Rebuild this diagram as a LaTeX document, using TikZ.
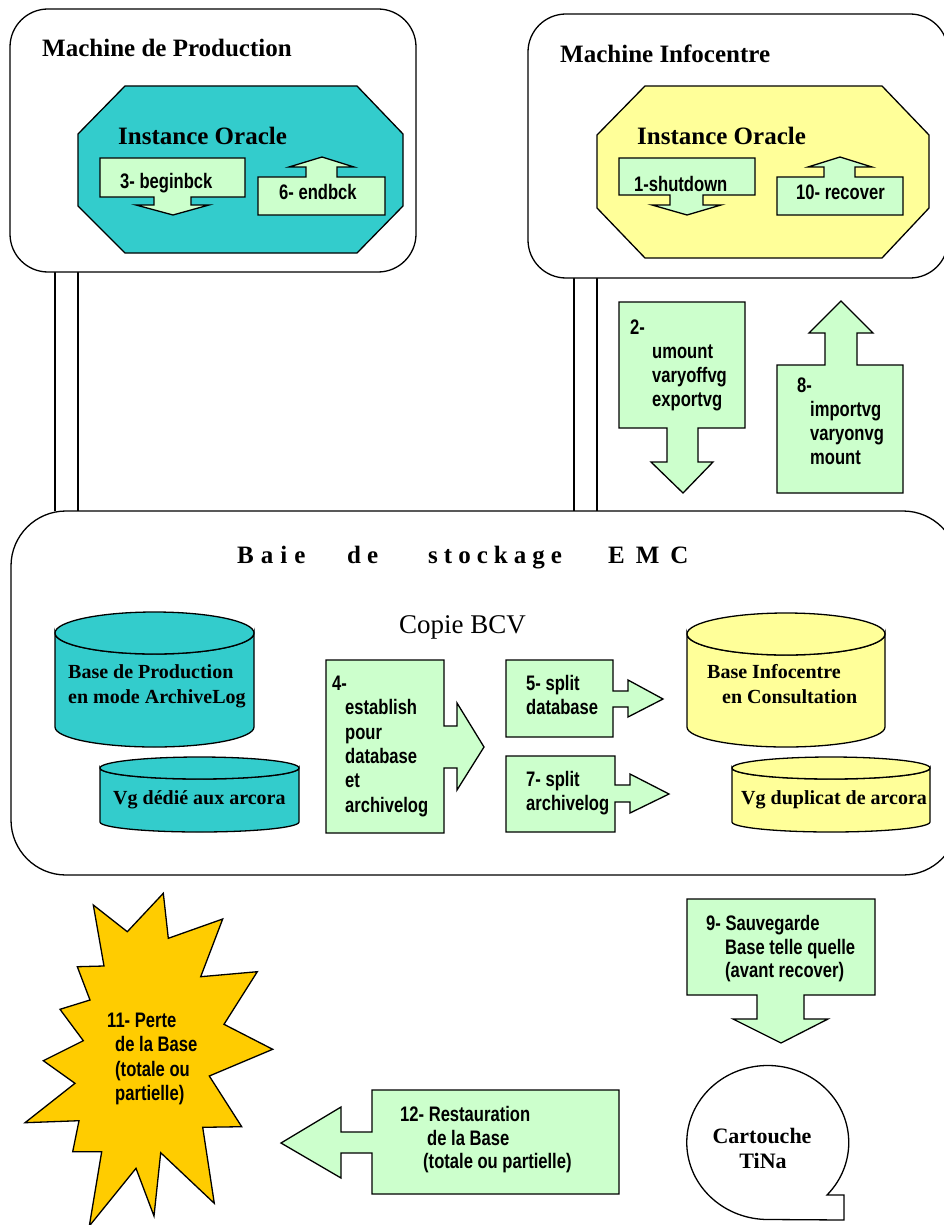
\documentclass[tikz,border=0pt]{standalone}
\usepackage{fontspec}
\setmainfont{Liberation Serif}
\newfontfamily\sfb{Liberation Sans}[FakeStretch=0.79]
\definecolor{teal1}{HTML}{33CCCC}
\definecolor{yel1}{HTML}{FFFF99}
\definecolor{grn1}{HTML}{CCFFCC}
\definecolor{star1}{HTML}{FFCC00}
\tikzset{
 ln/.style={draw=black, line width=1.3pt, line join=miter},
 callout/.style={ln, fill=grn1},
 sft/.style={font=\sfb\bfseries\fontsize{21}{24}\selectfont, inner sep=0pt, anchor=base west},
 srb/.style={font=\bfseries\fontsize{25}{30}\selectfont, inner sep=0pt, anchor=base west},
 srm/.style={font=\bfseries\fontsize{20}{24}\selectfont, inner sep=0pt, anchor=base west},
 machine/.style={ln, fill=white, rounded corners=38pt},
}
\begin{document}
\begin{tikzpicture}[x=1pt,y=-1pt]
\useasboundingbox (0,0) rectangle (944,1225);
% pipes
\draw[ln] (55,272) -- (55,511) (78,272) -- (78,511);
\draw[ln] (574,278) -- (574,511) (597,278) -- (597,511);
% machine boxes
\draw[machine] (10,9) rectangle (416,272);
\draw[machine] (528,14) rectangle (948,278);
\node[srb] (mprod) at (42,57) {Machine de Production};
\node[srb] (minfo) at (560,63) {Machine Infocentre};
% octagons
\draw[ln, fill=teal1] (125,86) -- (357,86) -- (403,134) -- (403,206) -- (357,253) -- (125,253) -- (78,206) -- (78,134) -- cycle;
\draw[ln, fill=yel1] (645,86) -- (882,86) -- (929,135) -- (929,208) -- (882,258) -- (645,258) -- (597,208) -- (597,135) -- cycle;
\node[srb] (io1) at (118,145) {Instance Oracle};
\node[srb] (io2) at (637,145) {Instance Oracle};
% 3- beginbck
\draw[callout] (100,158) -- (245,158) -- (245,197) -- (191,197) -- (191,205) -- (209,205) -- (173,215) -- (136,205) -- (154,205) -- (154,197) -- (100,197) -- cycle;
\node[sft] (t3) at (120,189) {3- beginbck};
% 6- endbck
\draw[callout] (258,177) -- (306,177) -- (306,167) -- (289,167) -- (322,157) -- (354,167) -- (337,167) -- (337,177) -- (385,177) -- (385,215) -- (258,215) -- cycle;
\node[sft] (t6) at (279,200) {6- endbck};
% 1-shutdown
\draw[callout] (619,158) -- (755,158) -- (755,195) -- (703,195) -- (703,205) -- (721,205) -- (687,215) -- (652,205) -- (670,205) -- (670,195) -- (619,195) -- cycle;
\node[sft] (t1) at (634,192) {1-shutdown};
% 10- recover
\draw[callout] (777,177) -- (824,177) -- (824,167) -- (808,167) -- (840,157) -- (872,167) -- (855,167) -- (855,177) -- (903,177) -- (903,215) -- (777,215) -- cycle;
\node[sft] (t10) at (796,200) {10- recover};
% 2-
\draw[callout] (619,302) -- (745,302) -- (745,428) -- (698,428) -- (698,462) -- (713,462) -- (683,493) -- (651,462) -- (667,462) -- (667,428) -- (619,428) -- cycle;
\node[sft] (t2a) at (630,334) {2-};
\node[sft] (t2b) at (652,358) {umount};
\node[sft] (t2c) at (652,382) {varyoffvg};
\node[sft] (t2d) at (652,406) {exportvg};
% 8-
\draw[callout] (777,365) -- (825,365) -- (825,333) -- (809,333) -- (841,301) -- (873,333) -- (857,333) -- (857,365) -- (903,365) -- (903,493) -- (777,493) -- cycle;
\node[sft] (t8a) at (797,392) {8-};
\node[sft] (t8b) at (810,416) {importvg};
\node[sft] (t8c) at (810,440) {varyonvg};
\node[sft] (t8d) at (810,464) {mount};
% Baie
\draw[ln, fill=white, rounded corners=55pt] (11,511) rectangle (958,875);
\node[srb] (b1) at (237,563) {B\kern7pt a\kern7pt i\kern7pt e};
\node[srb] (b2) at (347,563) {d\kern6pt e};
\node[srb] (b3) at (428,563) {s\kern6pt t\kern6pt o\kern6pt c\kern6pt k\kern6pt a\kern6pt g\kern6pt e};
\node[srb] (b4) at (608,563) {E\kern11pt M\kern11pt C};
\node[inner sep=0pt, anchor=base west, font=\fontsize{27}{32}\selectfont] (bcv) at (399,633) {Copie BCV};
% cylinders
\filldraw[ln, fill=teal1] (55,633) -- (55,727) arc[start angle=180,end angle=0,x radius=99.5,y radius=20] -- (254,633) arc[start angle=0,end angle=180,x radius=99.5,y radius=21] -- cycle;
\draw[ln, fill=teal1] (154.5,633) ellipse [x radius=99.5, y radius=21];
\filldraw[ln, fill=teal1] (100,768) -- (100,822) arc[start angle=180,end angle=0,x radius=99.5,y radius=10] -- (299,768) arc[start angle=0,end angle=180,x radius=99.5,y radius=11] -- cycle;
\draw[ln, fill=teal1] (199.5,768) ellipse [x radius=99.5, y radius=11];
\filldraw[ln, fill=yel1] (687,634) -- (687,727) arc[start angle=180,end angle=0,x radius=99,y radius=20] -- (885,634) arc[start angle=0,end angle=180,x radius=99,y radius=21] -- cycle;
\draw[ln, fill=yel1] (786,634) ellipse [x radius=99, y radius=21];
\filldraw[ln, fill=yel1] (732,768) -- (732,822) arc[start angle=180,end angle=0,x radius=99,y radius=10] -- (930,768) arc[start angle=0,end angle=180,x radius=99,y radius=11] -- cycle;
\draw[ln, fill=yel1] (831,768) ellipse [x radius=99, y radius=11];
\node[srm] (bp1) at (68,678) {Base de Production};
\node[srm] (bp2) at (68,703) {en mode ArchiveLog};
\node[srm] (vg1) at (113,804) {Vg dédié aux arcora};
\node[srm] (bi1) at (707,678) {Base Infocentre};
\node[srm] (bi2) at (722,703) {en Consultation};
\node[srm] (vg2) at (741,804) {Vg duplicat de arcora};
% 4-
\draw[callout] (326,660) -- (444,660) -- (444,726) -- (457,726) -- (457,703) -- (484,747) -- (457,790) -- (457,768) -- (444,768) -- (444,833) -- (326,833) -- cycle;
\node[sft] (t4a) at (332,690) {4-};
\node[sft] (t4b) at (345,714) {establish};
\node[sft] (t4c) at (345,739) {pour};
\node[sft] (t4d) at (345,763) {database};
\node[sft] (t4e) at (345,787) {et};
\node[sft] (t4f) at (345,812) {archivelog};
% 5-
\draw[callout] (506,660) -- (613,660) -- (613,691) -- (628,691) -- (628,680) -- (663,699) -- (628,717) -- (628,707) -- (613,707) -- (613,737) -- (506,737) -- cycle;
\node[sft] (t5a) at (526,690) {5- split};
\node[sft] (t5b) at (526,714) {database};
% 7-
\draw[callout] (506,756) -- (615,756) -- (615,785) -- (630,785) -- (630,774) -- (669,794) -- (630,813) -- (630,802) -- (615,802) -- (615,832) -- (506,832) -- cycle;
\node[sft] (t7a) at (526,786) {7- split};
\node[sft] (t7b) at (526,810) {archivelog};
% star
\draw[ln, fill=star1] (163.3,893.3) -- (168.3,938.3) -- (222.7,919) -- (200.7,976.7) -- (257.3,971.7) -- (224,1024.3) -- (272.7,1049.3) -- (209.3,1076) -- (241.7,1126.7) -- (202.7,1127.3) -- (214.3,1203.3) -- (160.7,1152.7) -- (154,1216) -- (136,1168.3) -- (89.3,1226) -- (101.7,1151.7) -- (72.7,1151.7) -- (79,1120.7) -- (25,1122.7) -- (75,1083.3) -- (43.3,1060.7) -- (83.3,1040.7) -- (60,1009.3) -- (90,1000) -- (77.3,966.7) -- (104,966) -- (93.3,905) -- (127.3,931.7) -- cycle;
\node[sft] (t11a) at (107,1027) {11- Perte};
\node[sft] (t11b) at (115,1051) {de la Base};
\node[sft] (t11c) at (115,1076) {(totale ou};
\node[sft] (t11d) at (115,1100) {partielle)};
% 12-
\draw[callout] (372,1090) -- (619,1090) -- (619,1194) -- (372,1194) -- (372,1153) -- (341,1153) -- (341,1178) -- (281,1143) -- (341,1107) -- (341,1132) -- (372,1132) -- cycle;
\node[sft] (t12a) at (400,1121) {12- Restauration};
\node[sft] (t12b) at (427,1145) {de la Base};
\node[sft] (t12c) at (423,1168) {(totale ou partielle)};
% 9-
\draw[callout] (687,899) -- (875,899) -- (875,995) -- (804,995) -- (804,1019) -- (828,1019) -- (781,1043) -- (733,1019) -- (757,1019) -- (757,995) -- (687,995) -- cycle;
\node[sft] (t9a) at (706,930) {9- Sauvegarde};
\node[sft] (t9b) at (725,954) {Base telle quelle};
\node[sft] (t9c) at (725,977) {(avant recover)};
% cartouche
\draw[ln, fill=white] (827,1195) arc[start angle=43, end angle=-270, x radius=81, y radius=77] -- (844,1220) -- (844,1195) -- cycle;
\node[font=\bfseries\fontsize{22}{26}\selectfont, inner sep=0pt, anchor=base] (c1) at (762,1143) {Cartouche};
\node[font=\bfseries\fontsize{22}{26}\selectfont, inner sep=0pt, anchor=base] (c2) at (763,1168) {TiNa};
\end{tikzpicture}
\end{document}
